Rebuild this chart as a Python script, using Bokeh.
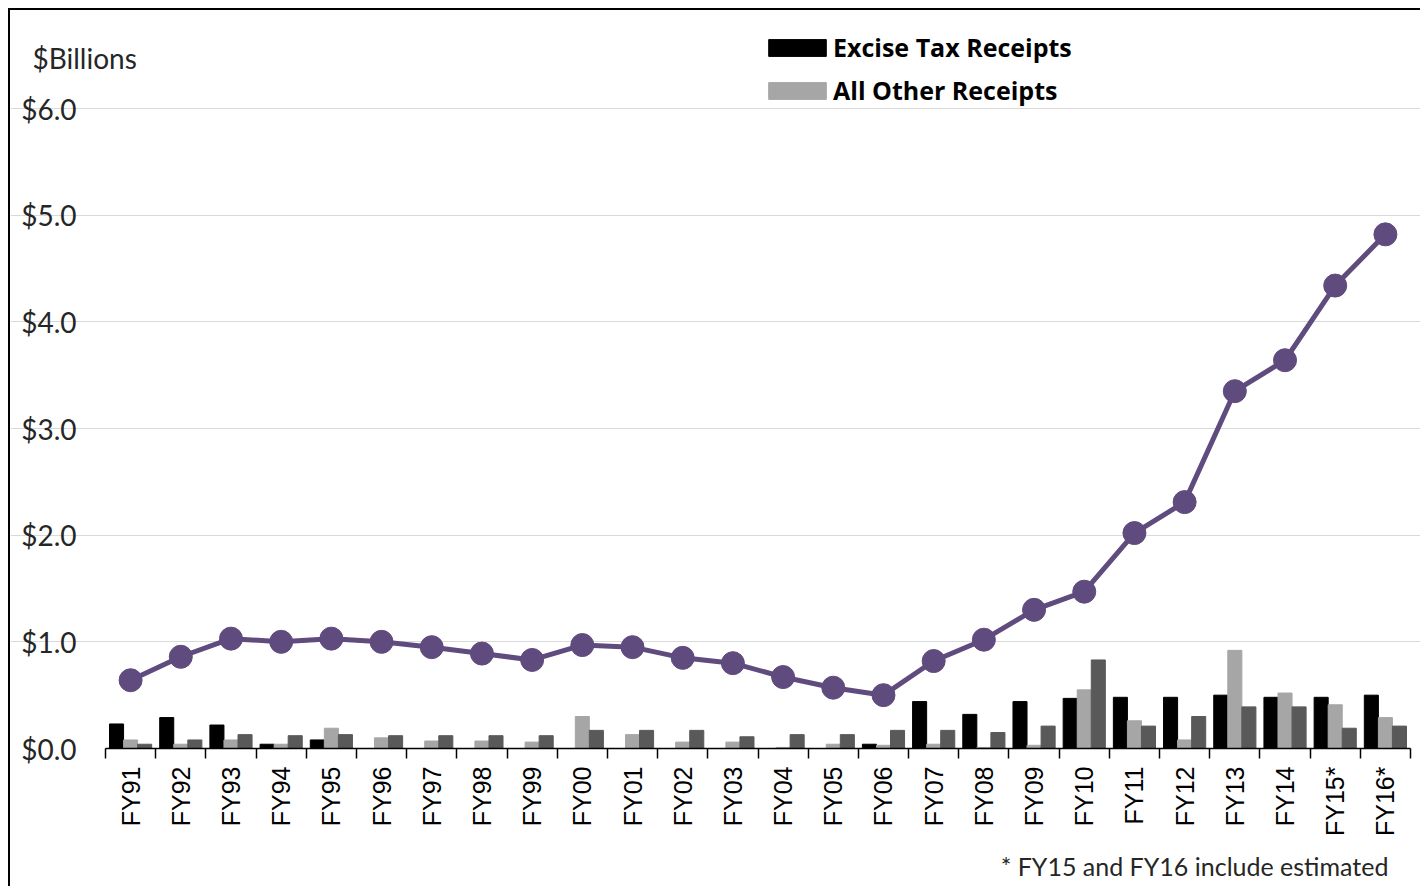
import math
from bokeh.plotting import figure
from bokeh.models import (Range1d, FixedTicker, PrintfTickFormatter, Legend, LegendItem,
                          Label, ColumnDataSource)
from bokeh.transform import dodge
from bokeh.embed import file_html
from bokeh.resources import INLINE

labels = ["FY91", "FY92", "FY93", "FY94", "FY95", "FY96", "FY97", "FY98", "FY99", "FY00",
          "FY01", "FY02", "FY03", "FY04", "FY05", "FY06", "FY07", "FY08", "FY09", "FY10",
          "FY11", "FY12", "FY13", "FY14", "FY15*", "FY16*"]
excise = [0.23, 0.29, 0.22, 0.04, 0.08, 0.0, 0.0, 0.0, 0.0, 0.0,
          0.0, 0.0, 0.0, 0.0, 0.0, 0.04, 0.44, 0.32, 0.44, 0.47,
          0.48, 0.48, 0.50, 0.48, 0.48, 0.50]
all_other = [0.08, 0.04, 0.08, 0.04, 0.19, 0.10, 0.07, 0.07, 0.06, 0.30,
             0.13, 0.06, 0.06, 0.01, 0.04, 0.03, 0.04, 0.01, 0.03, 0.55,
             0.26, 0.08, 0.92, 0.52, 0.41, 0.29]
third = [0.04, 0.08, 0.13, 0.12, 0.13, 0.12, 0.12, 0.12, 0.12, 0.17,
         0.17, 0.17, 0.11, 0.13, 0.13, 0.17, 0.17, 0.15, 0.21, 0.83,
         0.21, 0.30, 0.39, 0.39, 0.19, 0.21]
total = [0.64, 0.86, 1.03, 1.00, 1.03, 1.00, 0.95, 0.89, 0.83, 0.97,
         0.95, 0.85, 0.80, 0.67, 0.57, 0.50, 0.82, 1.02, 1.30, 1.47,
         2.02, 2.31, 3.35, 3.64, 4.34, 4.82]
y_ticks = [0, 1, 2, 3, 4, 5, 6]

n = len(labels)
idx = list(range(n))
src = ColumnDataSource(dict(x=idx, label=labels, excise=excise, other=all_other,
                            third=third, total=total))

W, H = 1412, 878
px_x = 1305 / n          # pixels per category
px_y = 640 / 6.0         # pixels per $1B
x0 = -0.5 - 95 / px_x
y1 = 738 / px_y
p = figure(width=W, height=H, x_range=Range1d(x0, x0 + W / px_x),
           y_range=Range1d(y1 - H / px_y, y1), output_backend="svg", toolbar_location=None,
           min_border=0, min_border_left=0, min_border_right=0, min_border_top=0,
           min_border_bottom=0)
p.styles = {"margin-left": "8px", "margin-top": "8px",
            "border-left": "2px solid black", "border-top": "2px solid black"}
p.outline_line_color = None
p.background_fill_color = "white"
p.border_fill_color = "white"

bw = 0.28
r1 = p.vbar(x=dodge("x", -0.28), top="excise", width=bw, source=src,
            fill_color="#000000", line_color="#000000")
r2 = p.vbar(x=dodge("x", 0.0), top="other", width=bw, source=src,
            fill_color="#A6A6A6", line_color="#A6A6A6")
r3 = p.vbar(x=dodge("x", 0.28), top="third", width=bw, source=src,
            fill_color="#595959", line_color="#595959")
p.line(x="x", y="total", source=src, line_color="#5F4B7D", line_width=5)
p.scatter(x="x", y="total", source=src, size=23, fill_color="#5F4B7D", line_color="#5F4B7D")

# y axis
p.yaxis.fixed_location = -0.5
p.yaxis.bounds = (0, 6)
p.yaxis.ticker = FixedTicker(ticks=y_ticks)
p.yaxis.formatter = PrintfTickFormatter(format="$%.1f")
p.yaxis.axis_line_color = None
p.yaxis.major_tick_line_color = None
p.yaxis.minor_tick_line_color = None
p.yaxis.major_label_standoff = 23
p.yaxis.major_label_text_font = "Lato"
p.yaxis.major_label_text_font_size = "28px"
p.yaxis.major_label_text_color = "#262626"

p.ygrid.ticker = FixedTicker(ticks=y_ticks[1:])
p.ygrid.bounds = (-0.5, n - 0.5)
p.ygrid.grid_line_color = "#D9D9D9"
p.ygrid.grid_line_width = 1
p.xgrid.grid_line_color = None

# x axis
p.xaxis.fixed_location = 0
p.xaxis.bounds = (-0.5, n - 0.5)
p.xaxis.ticker = FixedTicker(ticks=idx, minor_ticks=[i - 0.5 for i in range(n + 1)])
p.xaxis.major_label_overrides = {i: l for i, l in zip(idx, labels)}
p.xaxis.major_label_orientation = math.pi / 2
p.xaxis.major_tick_line_color = None
p.xaxis.major_tick_out = 0
p.xaxis.major_tick_in = 0
p.xaxis.minor_tick_line_color = "black"
p.xaxis.minor_tick_out = 10
p.xaxis.minor_tick_in = 0
p.xaxis.minor_tick_line_width = 1.5
p.xaxis.axis_line_color = "black"
p.xaxis.axis_line_width = 1.5
p.xaxis.major_label_standoff = 8
p.xaxis.major_label_text_font = "Liberation Sans"
p.xaxis.major_label_text_font_size = "25px"
p.xaxis.major_label_text_color = "black"

# legend
legend = Legend(items=[LegendItem(label="Excise Tax Receipts", renderers=[r1]),
                       LegendItem(label="All Other Receipts", renderers=[r2])],
                location=(751, 781), orientation="vertical")
legend.glyph_width = 72
legend.glyph_height = 21
legend.label_height = 30
legend.spacing = 9
legend.padding = 0
legend.margin = 0
legend.label_standoff = 0
legend.border_line_color = None
legend.background_fill_alpha = 0
legend.label_text_font = "Open Sans"
legend.label_text_font_style = "bold"
legend.label_text_font_size = "25px"
legend.label_text_color = "black"
p.add_layout(legend)

p.add_layout(Label(x=-1.955, y=6.47, text="$Billions", text_font="Lato",
                   text_font_size="28px", text_color="#262626", text_baseline="middle"))
p.add_layout(Label(x=25.06, y=-1.10, text="* FY15 and FY16 include estimated",
                   text_font="Lato", text_font_size="25px", text_color="#262626",
                   text_align="right", text_baseline="middle"))

open("out.html", "w").write(file_html(p, INLINE))
